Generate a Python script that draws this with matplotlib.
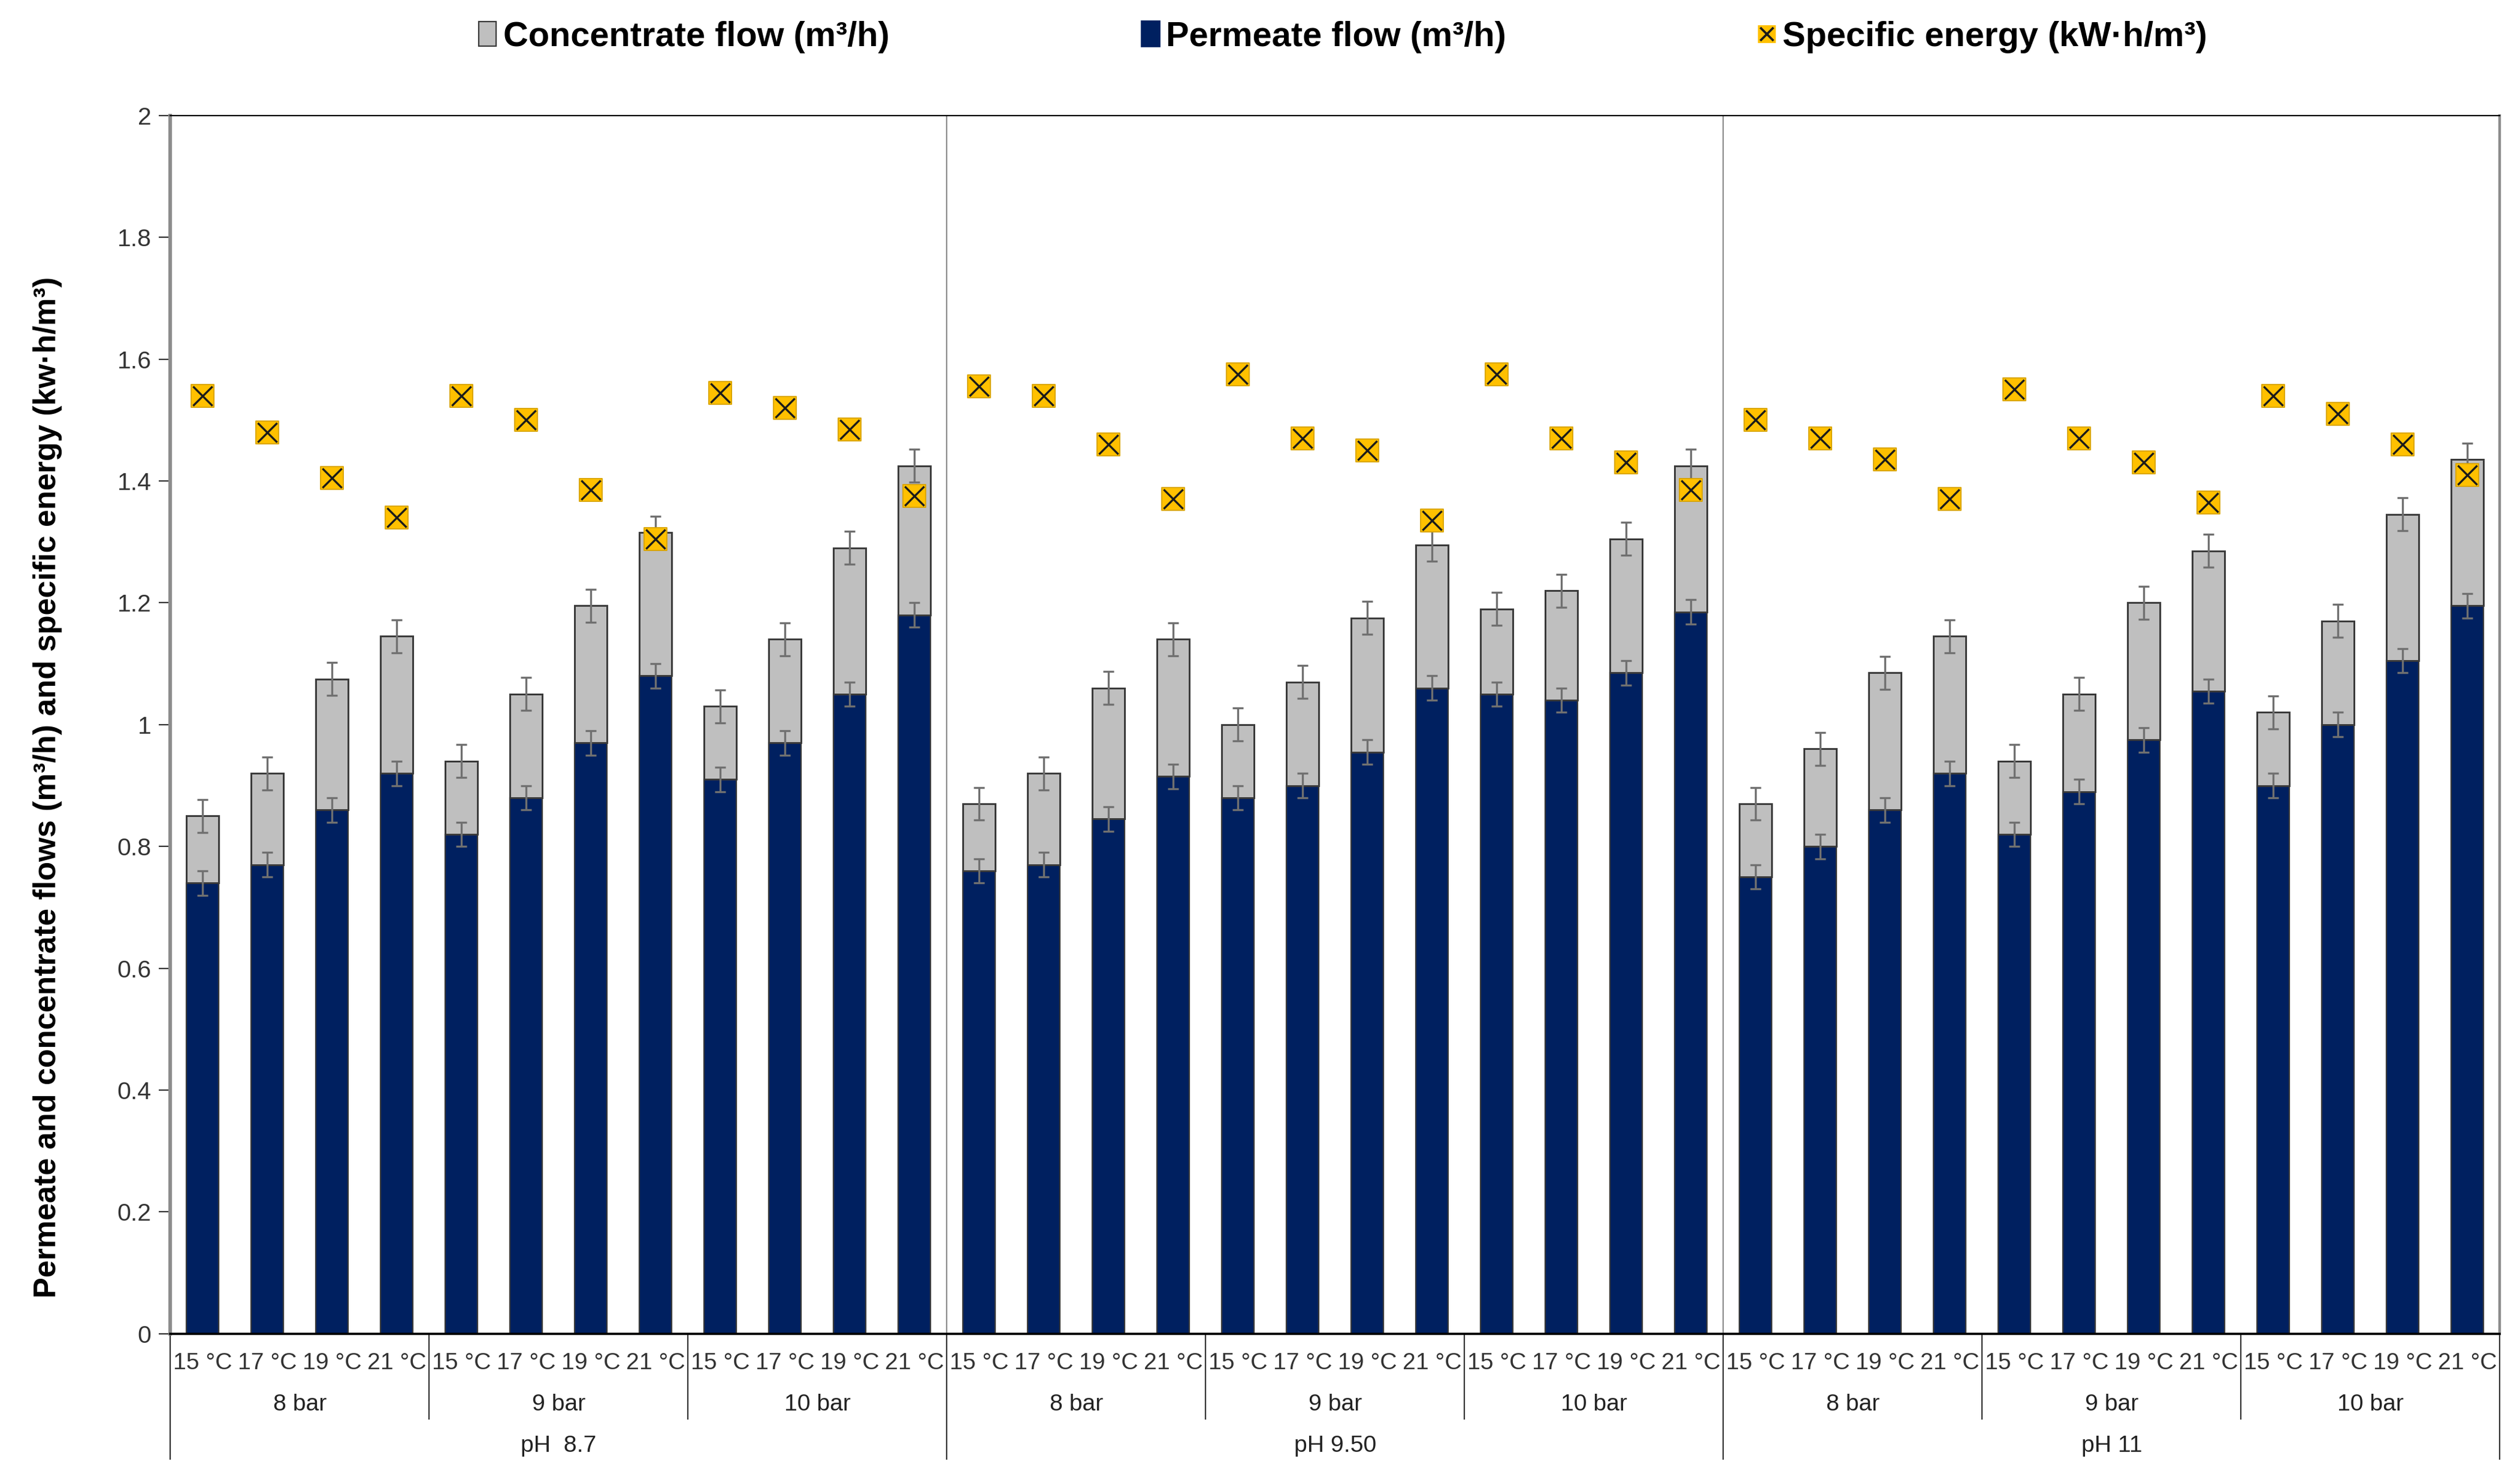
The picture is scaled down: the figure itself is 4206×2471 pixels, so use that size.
import numpy as np
import matplotlib
matplotlib.use("Agg")
import matplotlib.pyplot as plt
from matplotlib.transforms import blended_transform_factory
from matplotlib.lines import Line2D
from matplotlib.patches import Patch

plt.rcParams['font.family'] = ['Liberation Sans', 'DejaVu Sans']

# data (3 pH x 3 pressures x 4 temperatures)
temps = ["15 °C", "17 °C", "19 °C", "21 °C"]
pressures = ["8 bar", "9 bar", "10 bar"]
ph_labels = ["pH  8.7", "pH 9.50", "pH 11"]

permeate = [0.74, 0.77, 0.86, 0.92, 0.82, 0.88, 0.97, 1.08, 0.91, 0.97, 1.05, 1.18,
            0.76, 0.77, 0.845, 0.915, 0.88, 0.90, 0.955, 1.06, 1.05, 1.04, 1.085, 1.185,
            0.75, 0.80, 0.86, 0.92, 0.82, 0.89, 0.975, 1.055, 0.90, 1.00, 1.105, 1.195]
total_flow = [0.85, 0.92, 1.075, 1.145, 0.94, 1.05, 1.195, 1.315, 1.03, 1.14, 1.29, 1.425,
              0.87, 0.92, 1.06, 1.14, 1.00, 1.07, 1.175, 1.295, 1.19, 1.22, 1.305, 1.425,
              0.87, 0.96, 1.085, 1.145, 0.94, 1.05, 1.20, 1.285, 1.02, 1.17, 1.345, 1.435]
energy = [1.54, 1.48, 1.405, 1.34, 1.54, 1.50, 1.385, 1.305, 1.545, 1.52, 1.485, 1.375,
          1.555, 1.54, 1.46, 1.37, 1.575, 1.47, 1.45, 1.335, 1.575, 1.47, 1.43, 1.385,
          1.50, 1.47, 1.435, 1.37, 1.55, 1.47, 1.43, 1.365, 1.54, 1.51, 1.46, 1.41]
perm_err = 0.02
conc_err = 0.027

permeate = np.array(permeate)
concentrate = np.array(total_flow) - permeate
x = np.arange(len(permeate))

fig = plt.figure(figsize=(4206 / 268, 2471 / 268), dpi=268)
ax = fig.add_axes([0.0676, 0.0988, 0.9244, 0.8232])

navy = "#002060"
grey = "#BFBFBF"
gold = "#FFC000"

ax.bar(x, permeate, width=0.5, color=navy, edgecolor="#3a3a3a", linewidth=0.6, zorder=2)
ax.bar(x, concentrate, width=0.5, bottom=permeate, color=grey, edgecolor="#3a3a3a",
       linewidth=0.8, zorder=2)
ax.errorbar(x, permeate, yerr=perm_err, fmt="none", ecolor="#707070", elinewidth=0.9,
            capsize=2.5, capthick=0.9, zorder=3)
ax.errorbar(x, total_flow, yerr=conc_err, fmt="none", ecolor="#707070", elinewidth=0.9,
            capsize=2.5, capthick=0.9, zorder=3)
ax.scatter(x, energy, marker="s", s=100, color=gold, edgecolor="#d9a400", linewidth=0.5, zorder=4)
ax.scatter(x, energy, marker="x", s=75, color="#1a1a1a", linewidth=0.9, zorder=5)

ax.set_xlim(-0.5, 35.5)
ax.set_ylim(0, 2)
ax.set_yticks(np.arange(0, 2.01, 0.2))
ax.set_yticklabels(["0", "0.2", "0.4", "0.6", "0.8", "1", "1.2", "1.4", "1.6", "1.8", "2"])
ax.tick_params(axis="y", direction="out", length=5, width=0.6, labelsize=11, colors="#333333")
ax.set_xticks([])

ax.spines["top"].set_linewidth(0.6)
ax.spines["left"].set_color("#8c8c8c")
ax.spines["left"].set_linewidth(1.6)
ax.spines["right"].set_color("#8c8c8c")
ax.spines["right"].set_linewidth(1.2)
ax.spines["bottom"].set_linewidth(1.0)

# pH boundaries inside plot
for b in [11.5, 23.5]:
    ax.axvline(b, color="#8c8c8c", linewidth=0.6, zorder=1)

# multi-level category axis
tr = blended_transform_factory(ax.transData, ax.transAxes)
for i in x:
    ax.text(i, -0.024, temps[i % 4], transform=tr, ha="center", va="center",
            fontsize=10.5, color="#333333")
for g in range(9):
    ax.text(g * 4 + 1.5, -0.058, pressures[g % 3], transform=tr, ha="center", va="center",
            fontsize=10.5, color="#222222")
for p in range(3):
    ax.text(p * 12 + 5.5, -0.092, ph_labels[p], transform=tr, ha="center", va="center",
            fontsize=10.5, color="#222222")
for g in range(10):
    xb = g * 4 - 0.5
    ybot = -0.103 if g % 3 == 0 else -0.07
    ax.plot([xb, xb], [0, ybot], transform=tr, color="#333333", linewidth=0.6, clip_on=False)

fig.text(0.019, 0.468, "Permeate and concentrate flows (m³/h) and specific energy (kw·h/m³)",
         rotation=90, ha="center", va="center", fontsize=14, fontweight="bold")

handles = [Patch(facecolor=grey, edgecolor="#3a3a3a", linewidth=0.6),
           Patch(facecolor=navy, edgecolor=navy),
           (Line2D([], [], marker="s", color=gold, markersize=7, linestyle="none"),
            Line2D([], [], marker="x", color="#1a1a1a", markersize=6, linestyle="none"))]
labels = ["Concentrate flow (m³/h)", "Permeate flow (m³/h)", "Specific energy (kW·h/m³)"]
fig.legend(handles, labels, loc="center", bbox_to_anchor=(0.533, 0.975), ncol=3,
           frameon=False, handlelength=0.5, handleheight=0.7, handletextpad=0.2,
           columnspacing=7.3, prop={"weight": "bold", "size": 15.5})

fig.savefig("out.png", dpi=268)
